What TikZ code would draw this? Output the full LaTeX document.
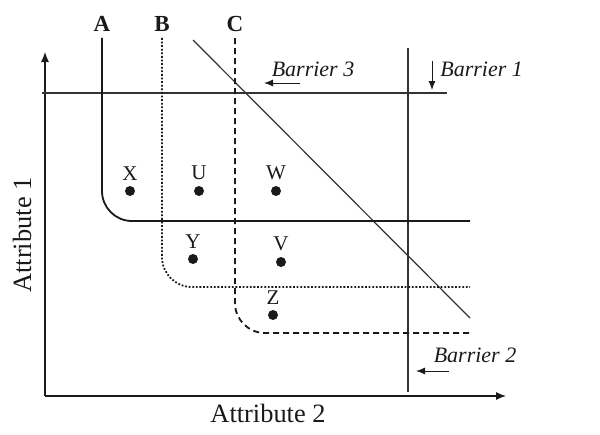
\documentclass[tikz,border=0pt]{standalone}
\usepackage{fontspec}
\setmainfont{Liberation Serif}
\usetikzlibrary{arrows.meta,positioning}
\definecolor{ink}{HTML}{1A1A1A}
\definecolor{barrier}{HTML}{333333}

\begin{document}
\begin{tikzpicture}[
  x=0.5pt, y=-0.5pt,
  font=\fontsize{12}{14}\selectfont, text=ink,
  axis/.style={-{Latex[length=5pt,width=4pt]}, ink, line width=0.6pt},
  wall/.style={barrier, line width=0.6pt},
  pointer/.style={-{Latex[length=4.5pt,width=3.5pt]}, ink, line width=0.5pt},
  curveA/.style={ink, line width=0.9pt, rounded corners=15pt},
  curveB/.style={ink, line width=0.9pt, dash pattern=on 0.9pt off 0.9pt, rounded corners=15pt},
  curveC/.style={ink, line width=0.9pt, dash pattern=on 3pt off 2pt, rounded corners=15pt},
  dot/.style={circle, fill=ink, inner sep=0pt, minimum size=5pt},
  tag/.style={font=\fontsize{11}{13}\selectfont\itshape, inner sep=1pt},
  key/.style={font=\fontsize{11.5}{13}\selectfont\bfseries, inner sep=1pt},
  lbl/.style={font=\fontsize{10.5}{12}\selectfont, inner sep=1pt},
  axlbl/.style={font=\fontsize{13.2}{15}\selectfont, inner sep=1pt},
]
\useasboundingbox (0,0) rectangle (600,434);

% ---------------- axes ---------------------------------------------
\coordinate (origin) at (45,396);
\coordinate (ytop) at (45,52);
\coordinate (xend) at (506,396);
\draw[axis] (origin) -- (ytop);
\draw[axis] (origin) -- (xend);
\node[axlbl, rotate=90] (att1) at (22,235) {Attribute 1};
\node[axlbl] (att2) at (268,413) {Attribute 2};

% ---------------- barriers -----------------------------------------
\coordinate (b1w) at (42,93);
\coordinate (b1e) at (447,93);
\coordinate (b2n) at (408,48);
\coordinate (b2s) at (408,392);
\coordinate (b3n) at (193,40);
\coordinate (b3s) at (470,318);
\draw[wall] (b1w) -- (b1e);
\draw[wall] (b2n) -- (b2s);
\draw[wall] (b3n) -- (b3s);

\node[tag] (t3) at (313,69) {Barrier 3};
\coordinate (p3a) at (300,83);
\coordinate (p3b) at (264,83);
\draw[pointer] (p3a) -- (p3b);

\node[tag, anchor=west] (t1) at (438,69) {Barrier 1};
\coordinate (p1a) at (432,61);
\coordinate (p1b) at (432,90);
\draw[pointer] (p1a) -- (p1b);

\node[tag] (t2) at (475,355) {Barrier 2};
\coordinate (p2a) at (449,371);
\coordinate (p2b) at (416,371);
\draw[pointer] (p2a) -- (p2b);

% ---------------- indifference curves ------------------------------
\node[key] (kA) at (102,24) {A};
\node[key] (kB) at (162,24) {B};
\node[key] (kC) at (235,24) {C};
\coordinate (endA) at (470,221);
\coordinate (endB) at (470,287);
\coordinate (endC) at (470,333);
\draw[curveA] ([yshift=-2pt]kA.south) |- (endA);
\draw[curveB] ([yshift=-2pt]kB.south) |- (endB);
\draw[curveC] ([yshift=-2pt]kC.south) |- (endC);

% ---------------- alternatives -------------------------------------
\foreach \n/\x/\y in {X/130/191, U/199/191, W/276/191, Y/193/259, V/281/262, Z/273/315}
  \node[dot, label={[lbl, yshift=1.5pt]above:\n}] (\n) at (\x,\y) {};

\end{tikzpicture}
\end{document}
